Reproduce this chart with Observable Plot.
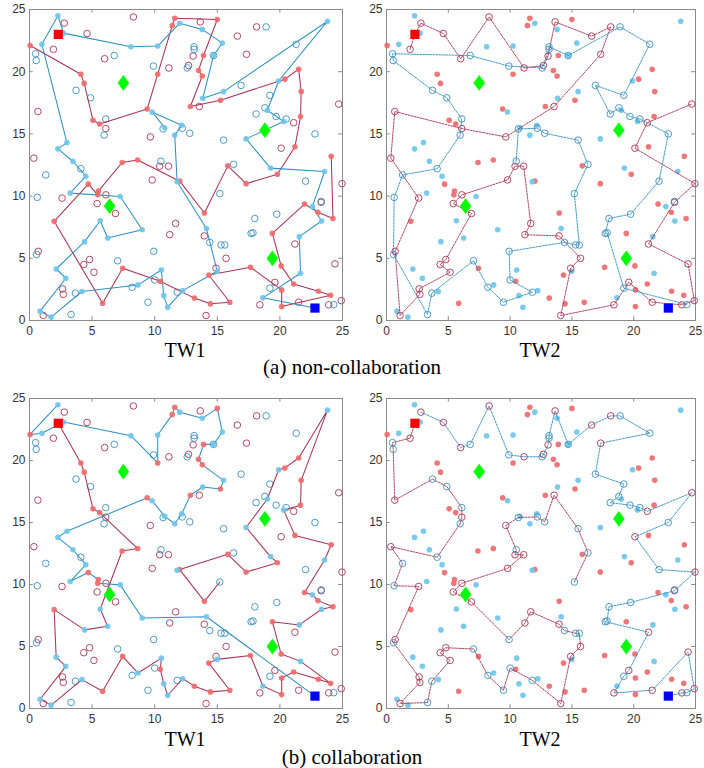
<!DOCTYPE html>
<html><head><meta charset="utf-8">
<script src="https://cdn.jsdelivr.net/npm/d3@7"></script>
<script src="https://cdn.jsdelivr.net/npm/@observablehq/plot@0.6"></script>
<style>
html,body{margin:0;padding:0;background:#fff;}
#root{position:relative;width:704px;height:768px;overflow:hidden;}
.pn{position:absolute;}
.lbl{position:absolute;font-family:"Liberation Serif","DejaVu Serif",serif;color:#000;white-space:nowrap;transform:translate(-50%,-50%);}
</style></head>
<body><div id="root"></div>
<script>
const ticks = [0, 5, 10, 15, 20, 25];
const depotRed = [2.3, 23.0];
const depotBlue = [22.8, 1.0];
const diamonds = [[7.5, 19.1], [18.8, 15.3], [6.4, 9.2], [19.4, 5.0]];

// non-collaboration, TW1 routes (red company / blue company)
const nc1Red = [[0.05,22.1],[4.1,19.8],[4.37,19.06],[5.07,16.1],[5.6,15.8],[9.4,17.0],[10.24,19.8],[11.4,23.7],[11.6,24.3],[15.0,24.2],[13.9,21.3],[13.5,20.1],[13.8,19.65],[12.85,17.2],[15.25,17.7],[20.4,19.4],[21.5,20.2],[21.7,18.4],[21.65,16.4],[21.2,13.96],[19.8,11.76],[17.3,11.0],[15.84,12.43],[13.97,8.64],[12.0,11.2],[8.64,12.9],[7.4,12.7],[5.5,10.4],[5.45,10.1],[4.7,10.96],[1.97,7.97],[5.84,1.39],[7.44,4.2],[10.45,3.16],[13.17,1.8],[14.45,1.34],[16.0,1.47],[14.32,3.66],[17.65,4.28],[20.14,2.46],[20.14,1.12],[24.05,2.03],[23.07,2.35],[21.1,2.94],[20.1,4.39],[19.4,7.0],[21.97,9.36],[23.04,8.7],[24.24,8.2],[24.1,13.2]];
const nc1Blue = [[22.8,1.0],[18.64,1.82],[21.65,3.8],[21.55,6.74],[23.33,8.0],[22.6,9.17],[23.57,11.98],[19.25,12.25],[17.3,14.6],[20.3,16.0],[19.0,16.9],[19.9,19.25],[23.8,24.06],[15.5,18.4],[13.84,17.86],[14.7,21.3],[15.4,22.3],[13.8,23.4],[12.0,23.9],[10.24,22.06],[8.1,22.0],[2.72,23.1],[2.27,24.5],[0.99,22.2],[2.99,14.3],[2.27,13.8],[3.47,12.8],[4.5,11.6],[3.25,10.24],[7.25,9.97],[9.0,7.3],[6.24,6.63],[5.65,8.02],[4.4,6.34],[2.13,4.14],[2.9,3.4],[0.85,0.75],[1.73,0.27],[4.19,2.33],[8.67,2.86],[10.53,4.06],[10.72,2.0],[11.04,1.07],[12.24,2.4],[14.99,3.96],[14.13,7.4],[11.79,11.15],[11.6,14.9],[12.16,15.7],[9.79,16.76],[10.8,15.5]];

// non-collaboration, TW2 routes
const nc2Red = [[1.91,21.8],[2.3,23.0],[2.78,23.9],[4.6,23.07],[6.0,21.04],[8.3,24.4],[11.13,20.3],[12.7,20.5],[13.07,21.26],[13.64,24.0],[16.6,22.86],[18.14,23.6],[17.33,21.4],[13.56,17.2],[9.65,14.76],[6.09,15.43],[0.67,16.8],[0.35,13.05],[2.6,9.84],[0.7,5.56],[1.1,0.4],[2.7,2.1],[2.64,2.54],[5.15,3.88],[4.34,4.5],[4.8,4.9],[6.87,8.6],[5.4,9.4],[6.1,10.1],[9.8,11.3],[10.4,12.4],[11.1,12.4],[11.67,7.8],[11.2,6.9],[13.96,6.8],[15.7,5.0],[14.9,4.2],[14.1,0.4],[18.4,1.26],[19.6,3.07],[21.5,1.47],[23.9,1.26],[24.9,1.6],[24.4,4.55],[21.2,6.15],[23.3,9.5],[24.96,11.0],[20.1,13.85],[21.1,15.9],[24.7,17.4]];
const nc2Blue = [[10.5,12.8],[10.67,15.4],[12.2,15.45],[12.8,15.05],[15.5,14.5],[16.3,12.55],[15.2,10.2],[15.6,6.07],[15.3,6.07],[14.4,6.28],[9.92,5.56],[10.0,3.26],[11.8,2.27],[9.46,1.47],[8.2,2.67],[7.04,4.8],[3.67,2.2],[3.32,0.48],[0.57,5.3],[0.62,9.9],[1.3,11.7],[4.1,12.2],[5.96,14.9],[6.09,16.2],[4.88,17.9],[3.72,18.5],[0.54,20.9],[0.49,21.44],[6.77,21.3],[9.9,20.45],[12.6,20.3],[13.15,21.8],[13.15,22.0],[14.7,21.3],[18.9,23.6],[21.3,22.2],[19.2,18.1],[16.9,18.9],[18.1,16.6],[18.8,17.1],[19.7,16.4],[20.5,16.2],[22.8,15.0],[22.05,11.2],[19.75,8.55],[18.0,8.2],[17.7,7.0],[17.85,7.05],[19.2,2.6],[24.3,1.28]];
const extraTw2Blue = [[23.3,9.57]];

// collaboration, TW1 routes
const c1Red = [[2.3,23.0],[4.1,19.8],[4.37,19.06],[5.07,16.1],[5.6,15.8],[8.64,12.9],[7.4,12.7],[5.65,8.02],[6.24,6.63],[4.4,6.34],[1.97,7.97],[2.13,4.14],[2.9,3.4],[0.85,0.75],[1.73,0.27],[4.19,2.33],[5.84,1.39],[7.44,4.2],[8.67,2.86],[10.53,4.06],[10.45,3.16],[10.72,2.0],[11.04,1.07],[12.24,2.4],[13.17,1.8],[14.45,1.34],[16.0,1.47],[14.32,3.66],[14.99,3.96],[17.65,4.28],[18.64,1.82],[20.14,1.12],[20.14,2.46],[21.1,2.94],[23.07,2.35],[24.05,2.03],[21.65,3.8],[20.1,4.39],[19.4,7.0],[21.55,6.74],[23.33,8.0],[24.24,8.2],[23.04,8.7],[22.6,9.17],[21.97,9.36],[23.57,11.98],[24.1,13.2],[21.2,13.96],[20.3,16.0],[21.65,16.4],[21.7,18.4],[23.8,24.06],[21.5,20.2],[20.4,19.4],[19.9,19.25],[19.0,16.9],[17.3,14.6],[19.25,12.25],[19.8,11.76],[17.3,11.0],[15.84,12.43],[12.0,11.2],[13.97,8.64],[15.2,10.2]];
const c1Blue = [[2.27,24.5],[0.05,22.1],[0.99,22.2],[2.72,23.1],[8.1,22.0],[10.24,19.8],[10.24,22.06],[11.4,23.7],[11.6,24.3],[12.0,23.9],[13.8,23.4],[15.0,24.2],[15.4,22.3],[14.7,21.3],[13.9,21.3],[13.5,20.1],[13.8,19.65],[15.5,18.4],[15.25,17.7],[13.84,17.86],[12.85,17.2],[12.16,15.7],[11.6,14.9],[10.8,15.5],[9.79,16.76],[9.4,17.0],[2.99,14.3],[2.27,13.8],[3.47,12.8],[4.5,11.6],[3.25,10.24],[4.7,10.96],[5.5,10.4],[5.45,10.1],[7.25,9.97],[9.0,7.3],[14.13,7.4],[22.8,1.0]];

// collaboration, TW2 routes
const c2Red = [[2.3,23.0],[1.91,21.8],[0.49,21.44],[0.54,20.9],[0.67,16.8],[3.72,18.5],[4.88,17.9],[6.09,16.2],[6.09,15.43],[5.96,14.9],[4.1,12.2],[0.35,13.05],[1.3,11.7],[0.62,9.9],[2.6,9.84],[0.7,5.56],[0.57,5.3],[2.64,2.54],[2.7,2.1],[1.1,0.4],[3.32,0.48],[3.67,2.2],[5.15,3.88],[4.34,4.5],[4.8,4.9],[7.04,4.8],[8.2,2.67],[9.46,1.47],[10.0,3.26],[11.8,2.27],[14.1,0.4],[14.9,4.2],[15.7,5.0],[15.6,6.07],[15.3,6.07],[14.4,6.28],[13.96,6.8],[11.67,7.8],[11.2,6.9],[9.92,5.56],[6.87,8.6],[5.4,9.4],[6.1,10.1],[9.8,11.3],[11.1,12.4],[10.4,12.4],[10.5,12.8],[9.65,14.76],[10.67,15.4],[12.2,15.45],[12.8,15.05],[13.56,17.2],[15.5,14.5],[16.3,12.55],[15.2,10.2]];
const c2Blue = [[2.78,23.9],[4.6,23.07],[6.0,21.04],[6.77,21.3],[8.3,24.4],[9.9,20.45],[11.13,20.3],[12.6,20.3],[12.7,20.5],[13.07,21.26],[13.15,21.8],[13.15,22.0],[13.64,24.0],[14.7,21.3],[16.6,22.86],[18.14,23.6],[18.9,23.6],[21.3,22.2],[17.33,21.4],[16.9,18.9],[19.2,18.1],[18.8,17.1],[18.1,16.6],[19.7,16.4],[20.5,16.2],[21.1,15.9],[24.7,17.4],[22.8,15.0],[20.1,13.85],[22.05,11.2],[24.96,11.0],[23.3,9.5],[19.75,8.55],[18.0,8.2],[17.85,7.05],[17.7,7.0],[21.2,6.15],[19.6,3.07],[19.2,2.6],[18.4,1.26],[21.5,1.47],[24.4,4.55],[24.9,1.6],[24.3,1.28],[23.9,1.26],[22.8,1.0]];

const panelTitles = ["TW1", "TW2"];
const captions = ["(a) non-collaboration", "(b) collaboration"];

// ---- build ----
const isDepot = p => (p[0] === depotRed[0] && p[1] === depotRed[1]) || (p[0] === depotBlue[0] && p[1] === depotBlue[1]);
const tw1Red = nc1Red.filter(p => !isDepot(p));
const tw1Blue = nc1Blue.filter(p => !isDepot(p));
const tw2Red = nc2Red.filter(p => !isDepot(p));
const tw2Blue = nc2Blue.filter(p => !isDepot(p)).concat(extraTw2Blue);

const C = {
  redFill: "#ee6b6e", blueFill: "#6fc6ea",
  redOpen: "#a8364f", blueOpen: "#3a8fc0",
  redLine: "#a8334f", blueLine: "#2f90c3",
  frame: "#8a8a8a"
};
const X = d => d[0], Y = d => d[1];
const diamondSym = {draw(ctx, size) { const s = Math.sqrt(size / Math.PI); ctx.moveTo(0, -s * 1.25); ctx.lineTo(s * 0.92, 0); ctx.lineTo(0, s * 1.25); ctx.lineTo(-s * 0.92, 0); ctx.closePath(); }};

function filled(arr, color) { return Plot.dot(arr, {x: X, y: Y, r: 2.8, fill: color, fillOpacity: 0.92, stroke: "none"}); }
function open(arr, color) { return Plot.dot(arr, {x: X, y: Y, r: 3.3, fill: "none", stroke: color, strokeWidth: 0.9}); }

function panel({tw, red, blue, left, top, width, mL, mR, mT, mB, h}) {
  const dashed = tw === 2;
  const lineOpt = color => ({x: X, y: Y, stroke: color, strokeWidth: dashed ? 0.9 : 1.05, strokeDasharray: dashed ? "2,1.2" : null, curve: "linear"});
  const marks = [
    Plot.frame({stroke: C.frame, strokeWidth: 1}),
    Plot.ruleX(ticks, {x: d => d, y1: 0, y2: 0.3, stroke: C.frame}),
    Plot.ruleX(ticks, {x: d => d, y1: 25, y2: 24.7, stroke: C.frame}),
    Plot.ruleY(ticks, {y: d => d, x1: 0, x2: 0.3, stroke: C.frame}),
    Plot.ruleY(ticks, {y: d => d, x1: 25, x2: 24.7, stroke: C.frame}),
    Plot.axisX({ticks, tickSize: 0, tickPadding: 6, fontSize: 12, fill: "#333", tickFormat: d => d}),
    Plot.axisY({ticks, tickSize: 0, tickPadding: 4, fontSize: 12, fill: "#333", tickFormat: d => d}),
  ];
  if (tw === 1) {
    marks.push(open(tw2Red, C.redOpen), open(tw2Blue, C.blueOpen));
    marks.push(Plot.line(red, lineOpt(C.redLine)), Plot.line(blue, lineOpt(C.blueLine)));
    marks.push(filled(tw1Red, C.redFill), filled(tw1Blue, C.blueFill));
  } else {
    marks.push(filled(tw1Red, C.redFill), filled(tw1Blue, C.blueFill));
    marks.push(Plot.line(red, lineOpt(C.redLine)), Plot.line(blue, lineOpt(C.blueLine)));
    marks.push(open(tw2Red, C.redOpen), open(tw2Blue, C.blueOpen));
  }
  marks.push(
    Plot.dot([depotRed], {x: X, y: Y, symbol: "square", r: 5.2, fill: "#ff0000", stroke: "none"}),
    Plot.dot([depotBlue], {x: X, y: Y, symbol: "square", r: 5.2, fill: "#0000ff", stroke: "none"}),
    Plot.dot(diamonds, {x: X, y: Y, symbol: diamondSym, r: 6.3, fill: "#00ff00", stroke: "none"})
  );
  const svg = Plot.plot({
    width, height: h, marginLeft: mL, marginRight: mR, marginTop: mT, marginBottom: mB,
    x: {domain: [0, 25], axis: null}, y: {domain: [0, 25], axis: null},
    style: {fontFamily: "'Liberation Sans', Arial, sans-serif", background: "transparent", overflow: "visible"},
    marks
  });
  svg.classList.add("pn");
  svg.style.left = left + "px";
  svg.style.top = top + "px";
  document.getElementById("root").appendChild(svg);
}

const L = {left: 0, width: 352, mL: 29, mR: 10};
const R = {left: 352, width: 352, mL: 34, mR: 9};
const T = {top: 0, mT: 9, mB: 22, h: 342};
const B = {top: 389, mT: 9, mB: 22, h: 341};

panel({tw: 1, red: nc1Red, blue: nc1Blue, ...L, ...T});
panel({tw: 2, red: nc2Red, blue: nc2Blue, ...R, ...T});
panel({tw: 1, red: c1Red, blue: c1Blue, ...L, ...B});
panel({tw: 2, red: c2Red, blue: c2Blue, ...R, ...B});

function label(text, cx, cy, size) {
  const d = document.createElement("div");
  d.className = "lbl";
  d.textContent = text;
  d.style.left = cx + "px"; d.style.top = cy + "px"; d.style.fontSize = size + "px";
  document.getElementById("root").appendChild(d);
}
label(panelTitles[0], 185, 350, 20);
label(panelTitles[1], 540, 350, 20);
label(captions[0], 352, 367, 21);
label(panelTitles[0], 185, 739, 20);
label(panelTitles[1], 540, 739, 20);
label(captions[1], 352, 757, 21);
</script>
</body></html>
